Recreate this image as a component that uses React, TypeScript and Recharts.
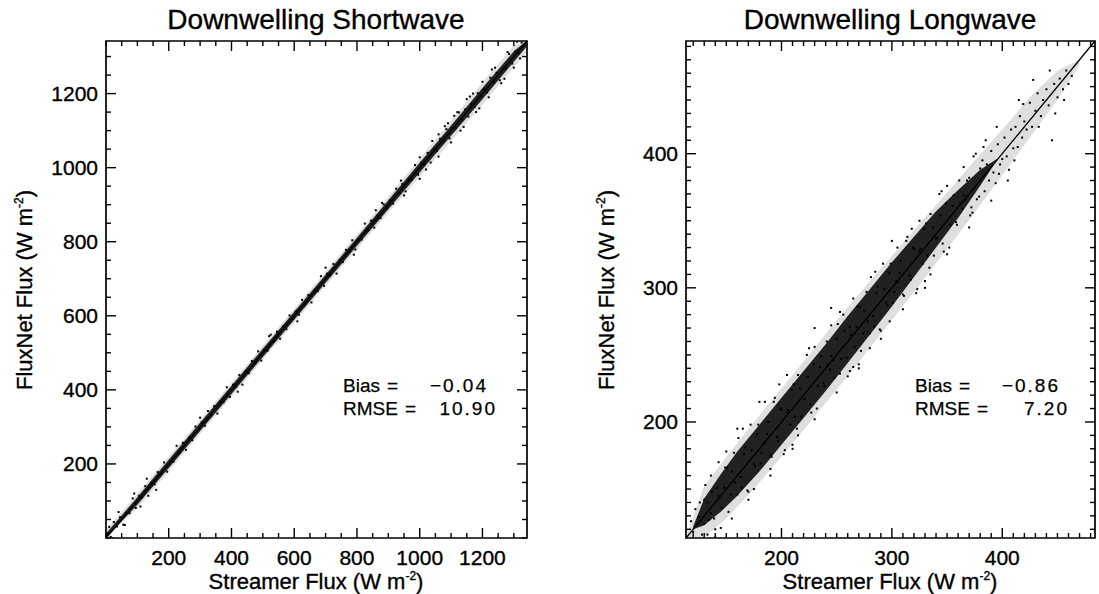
import React from "react";
import {
  ComposedChart,
  XAxis,
  YAxis,
  Scatter,
  Area,
  ReferenceLine,
  ReferenceArea,
} from "recharts";

const FONT = "'Liberation Sans', Arial, Helvetica, sans-serif";
const H = 594;

// ---- Downwelling Shortwave ----
const swDomain: [number, number] = [0, 1342];
const swTicks = [
  0, 50, 100, 150, 200, 250, 300, 350, 400, 450, 500, 550, 600, 650, 700, 750,
  800, 850, 900, 950, 1000, 1050, 1100, 1150, 1200, 1250, 1300,
];
const swLabels = [200, 400, 600, 800, 1000, 1200];
// dense core of the cloud
const swCoreX = [0, 100, 200, 300, 400, 500, 600, 700, 800, 900, 1000, 1100, 1200, 1300, 1340];
const swCoreLow = [0, 90, 189, 289, 389, 489, 589, 689, 789, 888, 987, 1086, 1185, 1286, 1326];
const swCoreHigh = [12, 110, 211, 311, 411, 511, 611, 711, 811, 912, 1013, 1114, 1215, 1314, 1342];
// sparser halo around the core
const swHaloX = [0, 100, 200, 300, 400, 500, 600, 700, 800, 900, 1000, 1100, 1200, 1300, 1340];
const swHaloLow = [0, 80, 180, 281, 381, 481, 581, 681, 780, 878, 975, 1072, 1170, 1272, 1310];
const swHaloHigh = [22, 120, 220, 319, 419, 519, 619, 719, 820, 922, 1025, 1128, 1230, 1330, 1342];
// scattered samples (Streamer, FluxNet)
const swPoints: [number, number][] = [
  [5, 12], [15, 3], [25, 43], [35, 31], [45, 56], [55, 36], [65, 68], [75, 67], [85, 107], [95, 81],
  [105, 114], [115, 109], [125, 140], [135, 114], [145, 150], [155, 145], [165, 178], [175, 173], [185, 204], [195, 179],
  [205, 206], [215, 206], [225, 249], [235, 230], [245, 257], [255, 238], [265, 271], [275, 264], [285, 301], [295, 292],
  [305, 312], [315, 303], [325, 343], [335, 331], [345, 356], [355, 336], [365, 368], [375, 367], [385, 407], [395, 381],
  [405, 414], [415, 409], [425, 440], [435, 414], [445, 450], [455, 445], [465, 478], [475, 473], [485, 504], [495, 479],
  [505, 506], [515, 506], [525, 549], [535, 530], [545, 557], [555, 538], [565, 571], [575, 564], [585, 601], [595, 592],
  [605, 612], [615, 603], [625, 643], [635, 631], [645, 656], [655, 636], [665, 668], [675, 667], [685, 707], [695, 681],
  [705, 714], [715, 709], [725, 740], [735, 714], [745, 750], [755, 745], [765, 778], [775, 773], [785, 804], [795, 779],
  [805, 806], [815, 806], [825, 849], [835, 830], [845, 857], [855, 838], [865, 871], [875, 864], [885, 901], [895, 892],
  [905, 912], [915, 903], [925, 943], [935, 931], [945, 956], [955, 936], [965, 968], [975, 967], [985, 1007], [995, 981],
  [1005, 1014], [1015, 1009], [1025, 1040], [1035, 1014], [1045, 1050], [1055, 1045], [1065, 1078], [1075, 1073], [1085, 1104], [1095, 1079],
  [1105, 1106], [1115, 1106], [1125, 1149], [1135, 1130], [1145, 1157], [1155, 1138], [1165, 1171], [1175, 1164], [1185, 1201], [1195, 1192],
  [1205, 1212], [1215, 1203], [1225, 1243], [1235, 1231], [1245, 1256], [1255, 1236], [1265, 1268], [1275, 1267], [1285, 1307], [1295, 1281],
  [1305, 1314], [1315, 1309], [1325, 1338],
  [1000, 1028], [1020, 995], [1040, 1072], [1060, 1030], [1080, 1112], [1100, 1068], [1120, 1150], [1140, 1110],
  [1160, 1192], [1180, 1150], [1200, 1232], [1220, 1190], [1240, 1270], [1260, 1228], [1280, 1312], [1300, 1270],
  [1310, 1340], [1090, 1120], [1130, 1100], [1170, 1200],
  [10, 30], [20, 0], [40, 70], [60, 35], [90, 120], [110, 85], [130, 160], [160, 130],
  [300, 325], [420, 395], [520, 545], [610, 585], [700, 730], [790, 765], [880, 905], [950, 925],
  [1110, 1140], [1150, 1185], [1190, 1160], [1230, 1265], [1270, 1240], [1320, 1295], [1060, 1090], [1000, 970],
  [940, 965], [860, 885],
];

// ---- Downwelling Longwave ----
const lwDomain: [number, number] = [113.5, 484];
const lwTicks = [
  120, 130, 140, 150, 160, 170, 180, 190, 200, 210, 220, 230, 240, 250, 260, 270, 280, 290,
  300, 310, 320, 330, 340, 350, 360, 370, 380, 390, 400, 410, 420, 430, 440, 450, 460, 470, 480,
];
const lwLabels = [200, 300, 400];
const lwCoreX = [120, 130, 145, 160, 180, 200, 220, 240, 260, 280, 300, 320, 340, 360, 380, 395];
const lwCoreLow = [120, 123, 133, 145, 163, 183, 203, 223, 244, 265, 286, 308, 330, 352, 376, 395];
const lwCoreHigh = [122, 143, 161, 178, 198, 218, 238, 258, 279, 299, 319, 338, 357, 373, 388, 396];
const lwHaloX = [115, 130, 150, 175, 200, 225, 250, 275, 300, 325, 350, 375, 400, 425, 450, 470];
const lwHaloLow = [114, 114, 128, 150, 174, 199, 224, 250, 276, 302, 329, 356, 384, 412, 440, 466];
const lwHaloHigh = [118, 152, 174, 200, 225, 250, 276, 300, 324, 348, 371, 395, 418, 442, 462, 470];
const lwPoints: [number, number][] = [
  [125, 129], [128, 116], [131, 153], [134, 127], [137, 148], [140, 114], [143, 145], [146, 136], [149, 166], [152, 133],
  [155, 163], [158, 155], [161, 188], [164, 151], [167, 181], [170, 148], [173, 179], [176, 167], [179, 198], [182, 177],
  [185, 184], [188, 200], [191, 174], [194, 218], [197, 186], [200, 209], [203, 179], [206, 209], [209, 224], [212, 204],
  [215, 235], [218, 204], [221, 217], [224, 234], [227, 207], [230, 256], [233, 227], [236, 249], [239, 227], [242, 243],
  [245, 249], [248, 233], [251, 273], [254, 247], [257, 268], [260, 234], [263, 265], [266, 256], [269, 286], [272, 253],
  [275, 283], [278, 275], [281, 308], [284, 271], [287, 301], [290, 268], [293, 299], [296, 287], [299, 318], [302, 297],
  [305, 304], [308, 320], [311, 294], [314, 338], [317, 306], [320, 329], [323, 299], [326, 329], [329, 344], [332, 324],
  [335, 355], [338, 324], [341, 337], [344, 354], [347, 327], [350, 376], [353, 347], [356, 369], [359, 347], [362, 363],
  [365, 369], [368, 380], [371, 354], [374, 398], [377, 366], [380, 389],
  [127, 126], [130, 142], [133, 116], [136, 160], [139, 128], [142, 151], [145, 121], [148, 151], [151, 166], [154, 146],
  [157, 177], [160, 146], [163, 159], [166, 176], [169, 149], [172, 198], [175, 169], [178, 191], [181, 169], [184, 185],
  [187, 191], [190, 175], [193, 215], [196, 189], [199, 210], [202, 176], [205, 207], [208, 198], [211, 228], [214, 195],
  [217, 225], [220, 217], [223, 250], [226, 213], [229, 243], [232, 210], [235, 241], [238, 229], [241, 260], [244, 239],
  [247, 246], [250, 262], [253, 236], [256, 280], [259, 248], [262, 271], [265, 241], [268, 271], [271, 286], [274, 266],
  [277, 297], [280, 266], [283, 279], [286, 296], [289, 269], [292, 318], [295, 289], [298, 311], [301, 289], [304, 305],
  [307, 311], [310, 295], [313, 335], [316, 309], [319, 330], [322, 296], [325, 327], [328, 318], [331, 348], [334, 315],
  [337, 345], [340, 337], [343, 370], [346, 333], [349, 363], [352, 330], [355, 361], [358, 349], [361, 380], [364, 359],
  [367, 366], [370, 382], [373, 356], [376, 400], [379, 368],
  [382, 395], [384, 372], [386, 392], [388, 380], [390, 402], [392, 386], [394, 378], [396, 407], [398, 392], [400, 396],
  [402, 412], [404, 398], [406, 388], [408, 418], [410, 404], [412, 420], [414, 405], [416, 428], [418, 412], [420, 424],
  [422, 418], [425, 438], [427, 420], [430, 432], [432, 445], [435, 428], [437, 440], [440, 448], [442, 436], [445, 410],
  [447, 452], [450, 442], [452, 456], [455, 448], [458, 462], [460, 452], [463, 458], [428, 455], [415, 440], [395, 420],
  [405, 380],
  [120, 118], [122, 135], [124, 124], [126, 140], [118, 126], [130, 124], [133, 140], [136, 132],
  [180, 215], [210, 180], [245, 285], [270, 240], [300, 335], [330, 300], [160, 195], [190, 160], [230, 270], [280, 255],
  [150, 178], [155, 128], [165, 195], [170, 142], [185, 215], [190, 165], [205, 235], [210, 183], [225, 255], [230, 202],
  [245, 272], [250, 222], [265, 292], [270, 243], [285, 312], [290, 262], [305, 330], [310, 284], [325, 350], [330, 305],
  [345, 372], [350, 325], [365, 390], [370, 345], [385, 410], [390, 365], [143, 170], [198, 228], [253, 282], [318, 344],
  [140, 120], [175, 150], [215, 190], [262, 238], [298, 275], [335, 310], [372, 360], [383, 405], [397, 385], [411, 395],
  [419, 437], [433, 420], [443, 462], [448, 430], [456, 440],
];

const dotShape = (p: any) => (
  <rect x={p.cx - 1} y={p.cy - 1} width={2} height={2} fill="#000" />
);

// heavier text, like the scanned original
const ink = { fill: "#000", stroke: "#000", strokeWidth: 0.35 };

const makeXTick = (labels: number[], plotH: number) => (props: any) => {
  const { x, y, payload } = props;
  const major = labels.includes(payload.value);
  const len = major ? 10 : 5;
  return (
    <g>
      <line x1={x} y1={y} x2={x} y2={y - len} stroke="#000" strokeWidth={1.4} />
      <line x1={x} y1={y - plotH} x2={x} y2={y - plotH + len} stroke="#000" strokeWidth={1.4} />
      {major && (
        <text x={x} y={y + 27} textAnchor="middle" fontSize={21} fontFamily={FONT} {...ink}>
          {payload.value}
        </text>
      )}
    </g>
  );
};

const makeYTick = (labels: number[], plotW: number) => (props: any) => {
  const { x, y, payload } = props;
  const major = labels.includes(payload.value);
  const len = major ? 10 : 5;
  return (
    <g>
      <line x1={x} y1={y} x2={x + len} y2={y} stroke="#000" strokeWidth={1.4} />
      <line x1={x + plotW} y1={y} x2={x + plotW - len} y2={y} stroke="#000" strokeWidth={1.4} />
      {major && (
        <text x={x - 8} y={y + 7.5} textAnchor="end" fontSize={21} fontFamily={FONT} {...ink}>
          {payload.value}
        </text>
      )}
    </g>
  );
};

type PanelProps = {
  left: number;
  width: number;
  margin: { top: number; right: number; bottom: number; left: number };
  domain: [number, number];
  ticks: number[];
  labels: number[];
  coreX: number[];
  coreLow: number[];
  coreHigh: number[];
  haloX: number[];
  haloLow: number[];
  haloHigh: number[];
  points: [number, number][];
};

const Panel = (p: PanelProps) => {
  const { left, width, margin, domain, ticks, labels, points } = p;
  // axes take 1px each, so the plot box is exactly the margin box
  const plotW = width - margin.left - margin.right;
  const plotH = H - margin.top - margin.bottom;
  const m = { ...margin, left: margin.left - 1, bottom: margin.bottom - 1 };
  const halo = p.haloX.map((x, i) => ({ x, halo: [p.haloLow[i], p.haloHigh[i]] }));
  const core = p.coreX.map((x, i) => ({ x, band: [p.coreLow[i], p.coreHigh[i]] }));
  const pts = points.map(([x, y]) => ({ x, y }));
  return (
    <div style={{ position: "absolute", left, top: 0 }}>
      <ComposedChart width={width} height={H} margin={m}>
        <XAxis
          type="number"
          dataKey="x"
          domain={domain}
          ticks={ticks}
          interval={0}
          height={1}
          tickSize={0}
          tickMargin={0}
          tickLine={false}
          axisLine={false}
          allowDataOverflow
          tick={makeXTick(labels, plotH)}
        />
        <YAxis
          type="number"
          dataKey="y"
          domain={domain}
          ticks={ticks}
          interval={0}
          width={1}
          tickSize={0}
          tickMargin={0}
          tickLine={false}
          axisLine={false}
          allowDataOverflow
          tick={makeYTick(labels, plotW)}
        />
        <ReferenceArea
          x1={domain[0]}
          x2={domain[1]}
          y1={domain[0]}
          y2={domain[1]}
          stroke="#000"
          strokeWidth={1.7}
          fill="none"
          ifOverflow="visible"
        />
        <Area
          data={halo}
          type="linear"
          dataKey="halo"
          stroke="none"
          fill="#000"
          fillOpacity={0.13}
          dot={false}
          activeDot={false}
          isAnimationActive={false}
        />
        <Area
          data={core}
          type="linear"
          dataKey="band"
          stroke="none"
          fill="#000"
          fillOpacity={0.85}
          dot={false}
          activeDot={false}
          isAnimationActive={false}
        />
        <Scatter data={pts} shape={dotShape} isAnimationActive={false} />
        <ReferenceLine
          segment={[
            { x: domain[0], y: domain[0] },
            { x: domain[1], y: domain[1] },
          ]}
          stroke="#000"
          strokeWidth={1.3}
          ifOverflow="visible"
        />
      </ComposedChart>
    </div>
  );
};

const Unit = () => (
  <>
    <tspan>(W m</tspan>
    <tspan dy={-9} fontSize={12}>-2</tspan>
    <tspan dy={9}>)</tspan>
  </>
);

const Stats = ({ x, bias, rmse }: { x: number; bias: string; rmse: string }) => (
  <g fontFamily={FONT} fontSize={19} {...ink} strokeWidth={0.25}>
    <text x={x} y={392}>Bias</text>
    <text x={x + 44} y={392}>=</text>
    <text x={x + 145} y={392} textAnchor="end" letterSpacing={2}>{bias}</text>
    <text x={x} y={415}>RMSE</text>
    <text x={x + 62} y={415}>=</text>
    <text x={x + 154} y={415} textAnchor="end" letterSpacing={2}>{rmse}</text>
  </g>
);

export default function App() {
  return (
    <div style={{ position: "absolute", left: 0, top: 0, width: 1099, height: H, background: "#fff" }}>
      <Panel
        left={0}
        width={560}
        margin={{ top: 41, right: 33, bottom: 56, left: 106 }}
        domain={swDomain}
        ticks={swTicks}
        labels={swLabels}
        coreX={swCoreX}
        coreLow={swCoreLow}
        coreHigh={swCoreHigh}
        haloX={swHaloX}
        haloLow={swHaloLow}
        haloHigh={swHaloHigh}
        points={swPoints}
      />
      <Panel
        left={560}
        width={539}
        margin={{ top: 41, right: 4, bottom: 56, left: 126 }}
        domain={lwDomain}
        ticks={lwTicks}
        labels={lwLabels}
        coreX={lwCoreX}
        coreLow={lwCoreLow}
        coreHigh={lwCoreHigh}
        haloX={lwHaloX}
        haloLow={lwHaloLow}
        haloHigh={lwHaloHigh}
        points={lwPoints}
      />
      <svg
        width={1099}
        height={H}
        style={{ position: "absolute", left: 0, top: 0, pointerEvents: "none" }}
      >
        <g fontFamily={FONT} {...ink} textAnchor="middle">
          <text x={316} y={29} fontSize={28}>Downwelling Shortwave</text>
          <text x={890} y={29} fontSize={28}>Downwelling Longwave</text>
          <text x={316} y={589} fontSize={22}>
            Streamer Flux <Unit />
          </text>
          <text x={890} y={589} fontSize={22}>
            Streamer Flux <Unit />
          </text>
          <text x={32} y={290} fontSize={22} transform="rotate(-90, 32, 290)">
            FluxNet Flux <Unit />
          </text>
          <text x={614} y={290} fontSize={22} transform="rotate(-90, 614, 290)">
            FluxNet Flux <Unit />
          </text>
        </g>
        <Stats x={343} bias="−0.04" rmse="10.90" />
        <Stats x={915} bias="−0.86" rmse="7.20" />
      </svg>
    </div>
  );
}
